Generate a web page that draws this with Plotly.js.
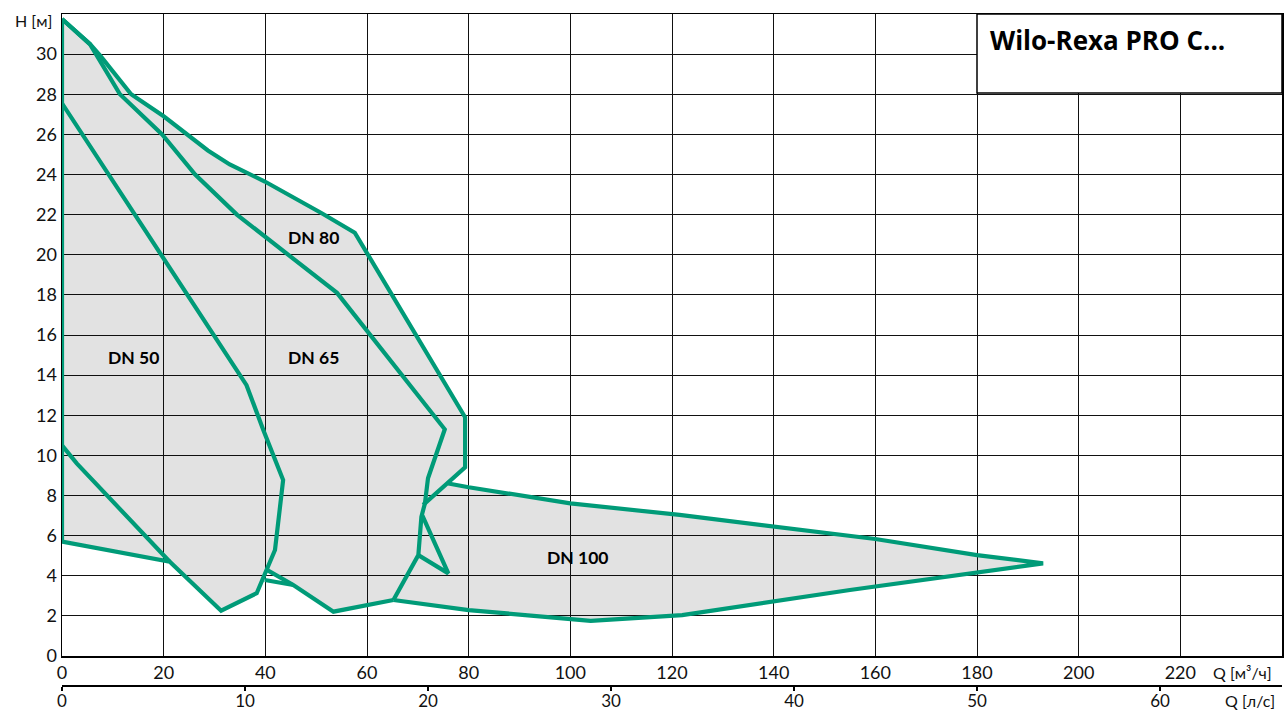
<!DOCTYPE html>
<html>
<head>
<meta charset="utf-8">
<script src="https://cdn.plot.ly/plotly-3.0.1.min.js"></script>
<style>html,body{margin:0;padding:0;background:#fff;}#chart{width:1284px;height:713px;}</style>
</head>
<body>
<div id="chart"></div>
<script>
// ---- data (Q in m³/h, H in m) ----
const leftQ = [0, 0];
const leftH = [5.7, 31.75];

const dn80Q = [0, 5.5, 7.6, 13.6, 20, 25, 28.7, 33, 39.9, 51.1, 57.6, 79.3, 79.3, 71.05];
const dn80H = [31.75, 30.5, 29.9, 28, 26.9, 25.9, 25.2, 24.5, 23.65, 22.07, 21.1, 11.9, 9.4, 7.53];

const dn65Q = [0, 5.5, 11.4, 19.7, 26.2, 34.4, 54.1, 75.3, 72.0, 71.4, 70.7, 70.1, 65.2];
const dn65H = [31.75, 30.5, 28, 26, 24, 22, 18.1, 11.3, 8.86, 7.61, 6.94, 5.03, 2.79];

const spikeQ = [70.9, 76.0, 70.1];
const spikeH = [7.0, 4.12, 5.03];

const dn50Q = [0, 36.3, 39.6, 43.5, 41.9, 40.3, 38.3, 31.3, 21.2, 0];
const dn50H = [27.55, 13.5, 11.27, 8.77, 5.28, 4.29, 3.13, 2.26, 4.7, 5.7];

const innerQ = [0, 2.9, 21.2];
const innerH = [10.5, 9.6, 4.7];

const sliverAQ = [40.3, 45.5, 53.4, 65.2];
const sliverAH = [4.29, 3.54, 2.21, 2.79];
const sliverBQ = [39.9, 45.5];
const sliverBH = [3.79, 3.54];

const dn100Q = [76, 80, 100, 121.5, 160, 180, 193, 180, 155, 122, 104, 80, 65.2];
const dn100H = [8.6, 8.41, 7.61, 7.03, 5.83, 5.03, 4.62, 4.15, 3.29, 2.04, 1.75, 2.29, 2.79];

const qTicks = [0, 20, 40, 60, 80, 100, 120, 140, 160, 180, 200, 220];
const hTicks = [0, 2, 4, 6, 8, 10, 12, 14, 16, 18, 20, 22, 24, 26, 28, 30];
const lsTicks = [0, 10, 20, 30, 40, 50, 60];

const labelText = ['DN 80', 'DN 65', 'DN 50', 'DN 100'];

// ---- envelope (union of all ranges) built from the lines above ----
const nOuter = dn80Q.length - 1; // outer DN80 boundary up to (79.3, 9.4)
const envQ = [].concat(leftQ.slice(0, 1), dn80Q.slice(0, nOuter), dn100Q,
  sliverAQ.slice(0, 3).reverse(), sliverBQ.slice(0, 1), dn50Q.slice(6, 10));
const envH = [].concat(leftH.slice(0, 1), dn80H.slice(0, nOuter), dn100H,
  sliverAH.slice(0, 3).reverse(), sliverBH.slice(0, 1), dn50H.slice(6, 10));

const GREEN = '#009b78';
function line(q, h) {
  return {x: q, y: h, mode: 'lines', type: 'scatter', hoverinfo: 'skip',
    line: {color: GREEN, width: 4.2, shape: 'linear'}, showlegend: false};
}

const traces = [
  {x: envQ, y: envH, mode: 'lines', type: 'scatter', fill: 'toself',
   fillcolor: 'rgba(0,0,0,0.115)', line: {width: 0}, hoverinfo: 'skip', showlegend: false},
  line(leftQ, leftH),
  line(dn80Q, dn80H),
  line(dn65Q, dn65H),
  line(spikeQ, spikeH),
  line(dn50Q, dn50H),
  line(innerQ, innerH),
  line(sliverAQ, sliverAH),
  line(sliverBQ, sliverBH),
  line(dn100Q, dn100H),
  // invisible trace to activate the l/s axis
  {x: [0, 66.667], y: [0, 0], xaxis: 'x2', yaxis: 'y', mode: 'markers',
   marker: {opacity: 0}, hoverinfo: 'skip', showlegend: false}
];

const FONT = 'Lato, "Noto Sans", sans-serif';
const H = 713, T = 14, B = 20;
const plotH = H - T - B;
const yDomBottom = (H - B - 656) / plotH;
const x2Pos = (H - B - 685) / plotH;
const tickFont = {family: FONT, size: 18, color: '#111'};

const layout = {
  width: 1284, height: 713,
  margin: {l: 62, r: 2, t: T, b: B},
  paper_bgcolor: '#fff', plot_bgcolor: '#fff',
  font: {family: FONT, size: 18, color: '#111'},
  showlegend: false,
  xaxis: {
    range: [0, 240], tickvals: qTicks, ticktext: qTicks.map(String),
    showgrid: true, gridcolor: '#111', gridwidth: 1,
    showline: true, linecolor: '#000', linewidth: 1.5, mirror: true,
    ticks: '', zeroline: false, anchor: 'y', automargin: false,
    tickfont: tickFont
  },
  xaxis2: {
    range: [0, 240 / 3.6], tickvals: lsTicks, overlaying: 'x', anchor: 'free',
    position: x2Pos, side: 'bottom', showgrid: false, zeroline: false,
    showline: true, linecolor: '#000', linewidth: 1.5, automargin: false,
    ticks: 'outside', ticklen: 4, tickwidth: 1.5, tickcolor: '#000',
    ticklabelstandoff: -4,
    tickfont: {family: FONT, size: 17, color: '#111'}
  },
  yaxis: {
    range: [0, 32], tickvals: hTicks, domain: [yDomBottom, 1],
    showgrid: true, gridcolor: '#111', gridwidth: 1,
    showline: true, linecolor: '#000', linewidth: 1.5, mirror: true,
    ticks: '', zeroline: false, automargin: false,
    tickfont: tickFont
  },
  shapes: [
    {type: 'rect', xref: 'paper', yref: 'paper', x0: (977 - 62) / 1220, x1: 1, y0: 1 - (93 - 14) / plotH, y1: 1,
     fillcolor: '#fff', line: {color: '#000', width: 1.5}, layer: 'above'}
  ],
  annotations: [
    {xref: 'paper', yref: 'paper', x: (988 - 62) / 1220, y: 1 - (40 - 14) / plotH,
     xanchor: 'left', yanchor: 'middle', showarrow: false,
     text: '<b>Wilo-Rexa PRO C...</b>', font: {family: '"Open Sans", Lato, sans-serif', size: 26, color: '#000'}},
    {x: 49.5, y: 20.85, xref: 'x', yref: 'y', showarrow: false, text: '<b>' + labelText[0] + '</b>', font: {size: 17.5, color: '#000'}},
    {x: 49.5, y: 14.9, xref: 'x', yref: 'y', showarrow: false, text: '<b>' + labelText[1] + '</b>', font: {size: 17.5, color: '#000'}},
    {x: 14, y: 14.9, xref: 'x', yref: 'y', showarrow: false, text: '<b>' + labelText[2] + '</b>', font: {size: 17.5, color: '#000'}},
    {x: 101.5, y: 4.9, xref: 'x', yref: 'y', showarrow: false, text: '<b>' + labelText[3] + '</b>', font: {size: 17.5, color: '#000'}},
    {xref: 'paper', yref: 'paper', x: -0.04, y: 1 - (21 - 14) / plotH, xanchor: 'left', yanchor: 'middle',
     showarrow: false, text: 'H [м]', font: {size: 16, color: '#111'}},
    {xref: 'paper', yref: 'paper', x: (1274 - 62) / 1220, y: 1 - (672 - 14) / plotH, xanchor: 'right', yanchor: 'middle',
     showarrow: false, text: 'Q [м³/ч]', font: {size: 16, color: '#111'}},
    {xref: 'paper', yref: 'paper', x: (1277 - 62) / 1220, y: 1 - (700 - 14) / plotH, xanchor: 'right', yanchor: 'middle',
     showarrow: false, text: 'Q [л/с]', font: {size: 16, color: '#111'}}
  ]
};

Plotly.newPlot('chart', traces, layout, {staticPlot: true, displayModeBar: false});
</script>
</body>
</html>
